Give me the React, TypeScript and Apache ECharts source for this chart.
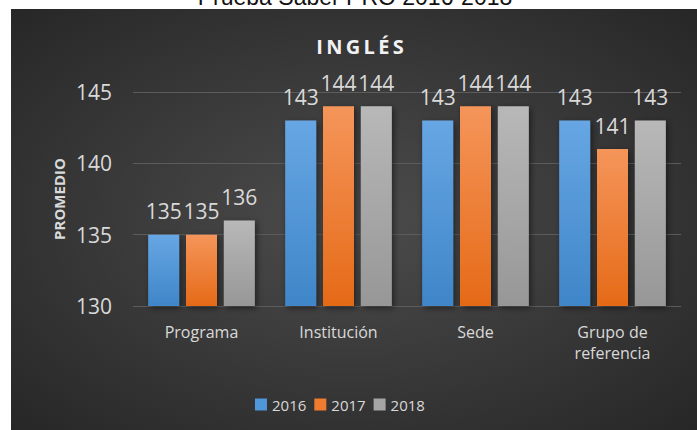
import React, { useEffect, useRef } from "react";
import * as echarts from "echarts";

const categories = ["Programa", "Institución", "Sede", "Grupo de\nreferencia"];
const years = ["2016", "2017", "2018"];
const values2016 = [135, 143, 143, 143];
const values2017 = [135, 144, 144, 141];
const values2018 = [136, 144, 144, 143];
const yTicks = { min: 130, max: 145, interval: 5 };

const grad = (top: string, bottom: string) =>
  new echarts.graphic.LinearGradient(0, 0, 0, 1, [
    { offset: 0, color: top },
    { offset: 1, color: bottom },
  ]);

export default function App() {
  const ref = useRef<HTMLDivElement>(null);
  useEffect(() => {
    document.body.style.margin = "0";
    const chart = echarts.init(ref.current!, null, { renderer: "svg" });
    const font = "'Open Sans', sans-serif";
    const labelColor = "#d9d9d9";
    const colors = [
      grad("#67a6e4", "#3f86c8"),
      grad("#f5955a", "#e56a17"),
      grad("#b8b8b8", "#979797"),
    ];
    const legendColors = ["#4f97d8", "#ee7b2e", "#a5a5a5"];
    const seriesData = [values2016, values2017, values2018];
    chart.setOption({
      animation: false,
      graphic: [
        {
          type: "rect",
          z: -10,
          silent: true,
          shape: { x: 11, y: 9, width: 697 - 11, height: 430 - 9 },
          style: {
            fill: {
              type: "radial",
              x: 0.5,
              y: 0.5,
              r: 0.7,
              colorStops: [
                { offset: 0, color: "#4c4c4c" },
                { offset: 1, color: "#272727" },
              ],
            },
          },
        },
        {
          type: "text",
          x: 355,
          y: 8,
          style: {
            text: "Prueba Saber PRO 2016-2018",
            fill: "#111",
            font: "23px 'Liberation Sans', Arial, sans-serif",
            align: "center",
            verticalAlign: "bottom",
          },
        },
        {
          type: "text",
          x: 360,
          y: 46,
          style: {
            text: "I\u2009N\u2009G\u2009L\u2009É\u2009S",
            fill: "#f2f2f2",
            font: "bold 20px 'Open Sans', sans-serif",
            align: "center",
            verticalAlign: "middle",
            shadowColor: "rgba(0,0,0,0.7)",
            shadowBlur: 3,
            shadowOffsetX: 1,
            shadowOffsetY: 2,
          },
        },
        {
          type: "text",
          x: 59,
          y: 199,
          rotation: Math.PI / 2,
          style: {
            text: "PROMEDIO",
            fill: labelColor,
            font: "bold 15px 'Open Sans', sans-serif",
            align: "center",
            verticalAlign: "middle",
          },
        },
      ],
      grid: { left: 133, right: 16, top: 92, bottom: 124 },
      legend: {
        data: years.map((y, i) => ({ name: y, itemStyle: { color: legendColors[i] } })),
        left: 250,
        top: 392,
        icon: "rect",
        itemWidth: 12,
        itemHeight: 12,
        itemGap: 8,
        textStyle: { color: labelColor, fontSize: 15, fontFamily: font },
      },
      xAxis: {
        type: "category",
        data: categories,
        axisTick: { show: false },
        axisLine: {
          lineStyle: {
            color: "#a6a6a6",
            width: 2,
            shadowColor: "rgba(0,0,0,0.6)",
            shadowBlur: 4,
            shadowOffsetY: 2,
          },
        },
        axisLabel: {
          color: labelColor,
          fontSize: 16,
          fontFamily: font,
          lineHeight: 21,
          margin: 15,
          interval: 0,
        },
      },
      yAxis: {
        type: "value",
        min: yTicks.min,
        max: yTicks.max,
        interval: yTicks.interval,
        axisLine: { show: false },
        axisTick: { show: false },
        axisLabel: { color: labelColor, fontSize: 21, fontFamily: font, margin: 21 },
        splitLine: { lineStyle: { color: "#5c5c5c", width: 1 } },
      },
      series: years.map((y, i) => ({
        name: y,
        type: "bar",
        data: seriesData[i],
        barWidth: 31,
        barGap: "22%",
        itemStyle: {
          color: colors[i],
          shadowColor: "rgba(0,0,0,0.5)",
          shadowBlur: 6,
          shadowOffsetX: 2,
          shadowOffsetY: 2,
        },
        label: {
          show: true,
          position: "top",
          distance: 13,
          color: labelColor,
          fontSize: 21,
          fontFamily: font,
        },
      })),
    });
    return () => chart.dispose();
  }, []);
  return <div ref={ref} style={{ width: 697, height: 430 }} />;
}
